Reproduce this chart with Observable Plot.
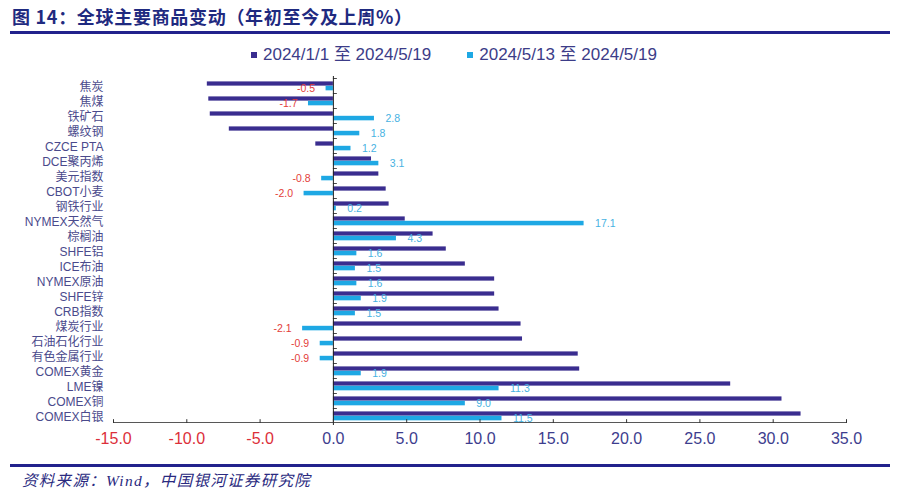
<!DOCTYPE html>
<html>
<head>
<meta charset="utf-8">
<script src="https://cdn.jsdelivr.net/npm/d3@7"></script>
<script src="https://cdn.jsdelivr.net/npm/@observablehq/plot@0.6"></script>
<style>
  body { margin: 0; background: #fff; }
  #wrap { position: relative; width: 900px; height: 500px; overflow: hidden; background: #fff; }
  .abs { position: absolute; }
  #title { left: 12px; top: 4px; font: bold 18px "Noto Sans CJK SC", sans-serif; color: #1f2a80; white-space: nowrap; line-height: 24px; letter-spacing: 0.7px; }
  .hline { left: 10px; width: 880px; height: 3px; background: #22228c; }
  #legend { top: 44px; left: 251px; font: 17px "Liberation Sans", "Noto Sans CJK SC", sans-serif; color: #3c3c88; white-space: nowrap; line-height: 22px; display: flex; align-items: center; }
  .sw { display: inline-block; width: 6px; height: 6px; margin-right: 6px; }
  .item { display: flex; align-items: center; margin-right: 36px; }
  #chart { left: 0; top: 70px; }
  #caption { left: 22px; top: 470px; font: italic 15.5px "Liberation Serif", "Noto Sans CJK SC", serif; color: #2a2a80; white-space: nowrap; line-height: 22px; letter-spacing: 1.3px; }
</style>
</head>
<body>
<div id="wrap">
  <div id="title" class="abs"></div>
  <div class="abs hline" style="top:31px"></div>
  <div id="legend" class="abs"></div>
  <div id="chart" class="abs"></div>
  <div class="abs hline" style="top:464px"></div>
  <div id="caption" class="abs"></div>
</div>
<script>
const titleText = "图 14：全球主要商品变动（年初至今及上周%）";
const captionText = "资料来源：Wind，中国银河证券研究院";
const seriesNames = ["2024/1/1 至 2024/5/19", "2024/5/13 至 2024/5/19"];
const seriesColors = ["#3a2d8f", "#1ea8e4"];

const categories = ["焦炭","焦煤","铁矿石","螺纹钢","CZCE PTA","DCE聚丙烯","美元指数","CBOT小麦","钢铁行业","NYMEX天然气","棕榈油","SHFE铝","ICE布油","NYMEX原油","SHFE锌","CRB指数","煤炭行业","石油石化行业","有色金属行业","COMEX黄金","LME镍","COMEX铜","COMEX白银"];
const ytdValues = [-8.6, -8.5, -8.4, -7.1, -1.2, 2.6, 3.1, 3.6, 3.8, 4.9, 6.8, 7.7, 9.0, 11.0, 11.0, 11.3, 12.8, 12.9, 16.7, 16.8, 27.1, 30.6, 31.9];
const weekValues = [-0.5, -1.7, 2.8, 1.8, 1.2, 3.1, -0.8, -2.0, 0.2, 17.1, 4.3, 1.6, 1.5, 1.6, 1.9, 1.5, -2.1, -0.9, -0.9, 1.9, 11.3, 9.0, 11.5];
const xTicks = [-15, -10, -5, 0, 5, 10, 15, 20, 25, 30, 35];

document.getElementById("title").textContent = titleText;
document.getElementById("caption").textContent = captionText;
const legend = document.getElementById("legend");
seriesNames.forEach((n, i) => {
  const it = document.createElement("span");
  it.className = "item";
  const sw = document.createElement("span");
  sw.className = "sw";
  sw.style.background = seriesColors[i];
  it.appendChild(sw);
  it.appendChild(document.createTextNode(n));
  legend.appendChild(it);
});

const data = categories.map((c, i) => ({cat: c, ytd: ytdValues[i], week: weekValues[i]}));
const W = 900, H = 385, mT = 6, mB = 30;
const step = (H - mT - mB) / categories.length;
const last = categories[categories.length - 1];
const posColor = "#47b2e2", negColor = "#e33d3a";

const chart = Plot.plot({
  width: W, height: H,
  marginLeft: 113, marginRight: 54, marginTop: mT, marginBottom: mB,
  x: {domain: [-15, 35], axis: null},
  y: {domain: categories, axis: null, padding: 0},
  style: {fontFamily: '"Liberation Sans", "Noto Sans CJK SC", sans-serif', background: "transparent"},
  marks: [
    Plot.barX(data, {y: "cat", x: "ytd", fill: seriesColors[0], insetTop: 3.4, insetBottom: step - 7.8}),
    Plot.barX(data, {y: "cat", x: "week", fill: seriesColors[1], insetTop: 7.8, insetBottom: step - 12.5}),
    Plot.ruleX([0], {stroke: "#222", strokeWidth: 1}),
    Plot.barX(categories, {y: d => d, x1: () => 0, x2: () => 0.27, insetBottom: step - 1, fill: "#222"}),
    Plot.barX([0], {x1: () => -15, x2: () => 35, y: () => last, insetTop: step - 1, fill: "#333"}),
    Plot.tickX(xTicks, {x: d => d, y: () => last, insetTop: step - 4, stroke: "#333"}),
    Plot.text(data.filter(d => d.week >= 0), {y: "cat", x: "week", text: d => d.week.toFixed(1), textAnchor: "start", dx: 11, dy: 2.5, fill: posColor, fontSize: 10.5}),
    Plot.text(data.filter(d => d.week < 0), {y: "cat", x: "week", text: d => d.week.toFixed(1), textAnchor: "end", dx: -11, dy: 2.5, fill: negColor, fontSize: 10.5}),
    Plot.text(categories, {y: d => d, frameAnchor: "left", textAnchor: "end", dx: -10, dy: 1, text: d => d, fill: "#4a4a8c", fontSize: 12}),
    Plot.text(xTicks, {x: d => d, frameAnchor: "bottom", dy: 18, text: d => d.toFixed(1), fill: d => d < 0 ? "#dc2f3a" : "#3d3d8e", fontSize: 16})
  ]
});
document.getElementById("chart").appendChild(chart);
</script>
</body>
</html>
